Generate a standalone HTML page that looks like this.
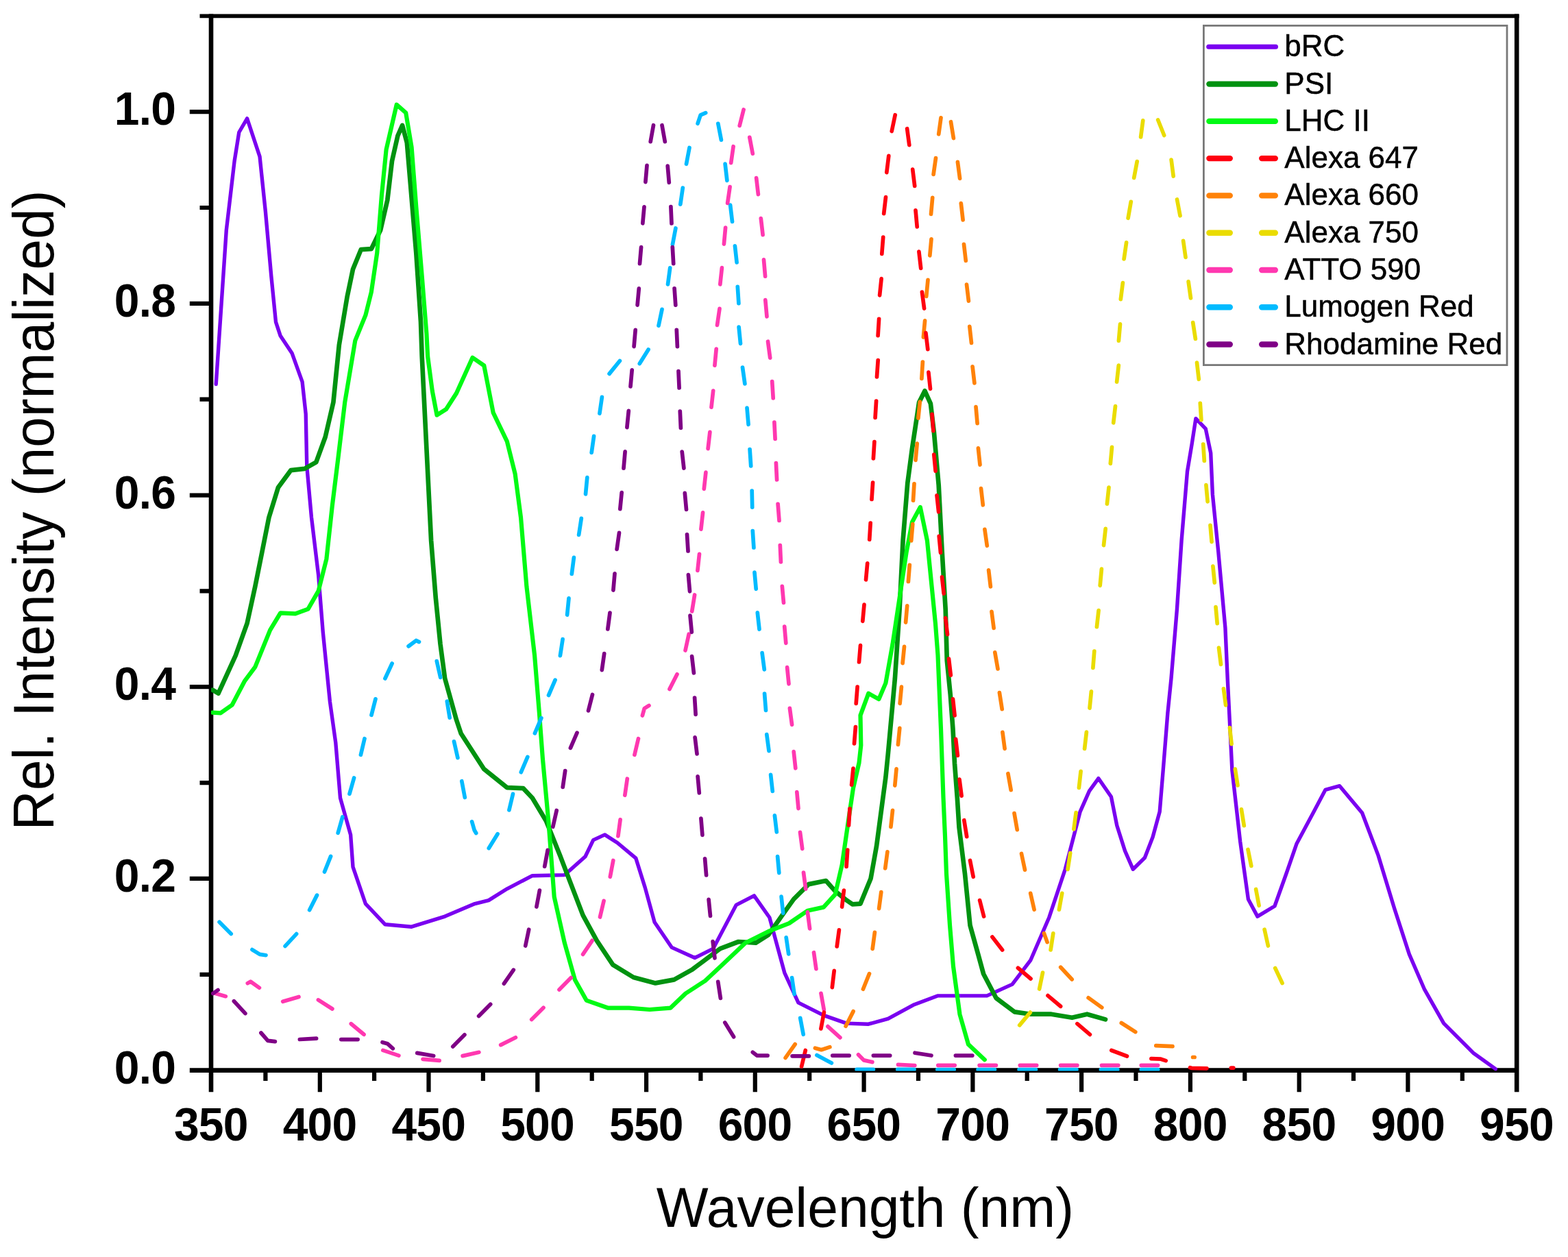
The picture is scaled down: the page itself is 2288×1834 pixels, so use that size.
<!DOCTYPE html>
<html lang="en"><head><meta charset="utf-8"><title>Absorption and emission spectra</title>
<style>html,body{margin:0;padding:0;background:#fff}body{width:2288px;height:1834px;overflow:hidden}svg{display:block}text{font-family:"Liberation Sans",Arial,Helvetica,sans-serif;fill:#000}.tk{font-weight:bold;font-size:66px;letter-spacing:-0.75px}.ax{font-size:80.4px}.lg{font-size:44px;stroke:#000;stroke-width:0.5px}.c{fill:none;stroke-linejoin:round;stroke-linecap:round}</style></head><body>
<svg xmlns="http://www.w3.org/2000/svg" width="2288" height="1834" viewBox="0 0 2288 1834">
<rect width="2288" height="1834" fill="#fff"/>
<g stroke="#000" fill="none" stroke-linecap="butt">
<path stroke-width="5.6" d="M291.5 23.4 H2216.5"/>
<path stroke-width="6.6" d="M276.8 1561.6 H2216.5 M308 20.6 V1593.2 M2213.2 20.6 V1593.2"/>
<path stroke-width="6.2" d="M466.8 1561.6 V1593.2 M625.5 1561.6 V1593.2 M784.3 1561.6 V1593.2 M943.1 1561.6 V1593.2 M1101.8 1561.6 V1593.2 M1260.6 1561.6 V1593.2 M1419.4 1561.6 V1593.2 M1578.1 1561.6 V1593.2 M1736.9 1561.6 V1593.2 M1895.7 1561.6 V1593.2 M2054.4 1561.6 V1593.2 M387.4 1561.6 V1577.0 M546.1 1561.6 V1577.0 M704.9 1561.6 V1577.0 M863.7 1561.6 V1577.0 M1022.4 1561.6 V1577.0 M1181.2 1561.6 V1577.0 M1340 1561.6 V1577.0 M1498.7 1561.6 V1577.0 M1657.5 1561.6 V1577.0 M1816.3 1561.6 V1577.0 M1975 1561.6 V1577.0 M2133.8 1561.6 V1577.0 M276.8 1281.9 H308 M276.8 1002.2 H308 M276.8 722.6 H308 M276.8 442.9 H308 M276.8 163.2 H308 M291.5 1421.8 H308 M291.5 1142.1 H308 M291.5 862.4 H308 M291.5 582.7 H308 M291.5 303 H308"/>
</g>
<clipPath id="pc"><rect x="308" y="23.4" width="1905.2" height="1539.2"/></clipPath>
<g class="c" clip-path="url(#pc)">
<path d="M315.2 560.6 L330.3 335.7 L342.1 235 L348.8 193 L360.6 172.9 L379 228.3 L387.4 308.8 L395.8 402.8 L402.5 469.9 L409.2 490.1 L426 515.2 L441.1 557.2 L446.2 603.9 L447.8 681.1 L454.5 755 L464.6 838.9 L471.3 922.8 L481.4 1023.5 L489.8 1083.6 L496.5 1164.2 L511.6 1217.9 L515 1264.9 L533.4 1318.6 L562 1348.8 L600.6 1352.2 L649.2 1337.1 L692.9 1318.6 L713 1313.6 L739.9 1296.8 L776.8 1277.7 L823.8 1276.6 L854 1249.8 L865.7 1225.6 L882.5 1217.9 L901 1229.7 L927.8 1252.1 L941.3 1295.1 L955.1 1345.5 L980.3 1382.4 L1013.8 1397.5 L1040.7 1384.1 L1074.3 1320.3 L1100.4 1306.9 L1122.9 1338.7 L1144.8 1419.3 L1164.9 1462.9 L1201.8 1481.4 L1235.4 1493.1 L1267.3 1494.2 L1295.8 1486.4 L1332.7 1466.3 L1368 1452.9 L1440.1 1452.9 L1477.1 1436.1 L1503.9 1400.8 L1530.8 1338.7 L1554.3 1268.3 L1576.1 1184.3 L1589.5 1154.1 L1602.9 1135.7 L1621.4 1162.5 L1629.8 1204.5 L1641.5 1241.4 L1653.3 1268.3 L1670.4 1251.5 L1682.1 1221.3 L1692.2 1184.3 L1697.2 1123.9 L1703.9 1040 L1709 989.9 L1717.4 889.2 L1724.1 788.5 L1732.5 687.8 L1739.2 647.6 L1744.9 610.6 L1759.3 625.7 L1766.7 661 L1769.4 721.4 L1777.8 805.3 L1787.9 916.1 L1791.2 989.9 L1797.9 1123.9 L1809.7 1228 L1821.4 1311.9 L1834.9 1337.1 L1860 1322 L1876.8 1275 L1891.9 1231.3 L1917.1 1184.3 L1933.9 1152.4 L1954.7 1146.7 L1987.6 1186 L2011.1 1248.1 L2034.6 1325.3 L2056.4 1392.4 L2078.2 1442.8 L2106.7 1493.1 L2150.4 1536.8 L2182.3 1559.6" stroke="#7a00f0" stroke-width="5.4"/>
<path d="M310.2 1006.7 L318.6 1011.7 L343.8 956.4 L360.6 909.4 L372.3 855.7 L382.4 805.3 L392.4 755 L405.9 711.3 L424.3 686.2 L444.5 683.8 L461.3 674.4 L474.7 637.5 L486.4 587.1 L494.8 503.5 L506.6 433 L515 392.7 L526.7 364.2 L541.8 363.2 L555.2 335.7 L565.3 292 L572 235 L580.4 198 L587.1 182.9 L593.8 208.1 L598.9 268.5 L607.3 369.2 L614 469.9 L615.7 520 L622.4 654.3 L629.1 788.5 L635.8 872.4 L642.5 939.6 L649.2 989.9 L666 1050.3 L672.7 1070.2 L706.3 1122.2 L739.9 1149.1 L763.4 1150.1 L776.8 1164.2 L796.9 1197.8 L817.1 1248.1 L850.6 1335.4 L870.8 1372.3 L894.3 1407.6 L924.5 1426 L956.4 1434.4 L983.6 1429.4 L1010.5 1414.3 L1050.8 1384.1 L1077.6 1374 L1102.8 1375.7 L1121.3 1363.9 L1141.4 1335.4 L1158.2 1311.9 L1180 1290.1 L1205.2 1285 L1218.6 1300.1 L1235.4 1313.6 L1243.8 1319.3 L1255.5 1318.6 L1270.6 1281.7 L1279 1234.7 L1292.4 1134 L1295.8 1100 L1305.9 989.9 L1312.6 889.2 L1317.6 788.5 L1324.3 704.6 L1331 654.3 L1341.1 587.1 L1349.5 570.3 L1357.9 588.8 L1362.9 630.8 L1369.7 708 L1374.7 805.3 L1379.7 889.2 L1381.8 964 L1386.8 1014 L1390.5 1064 L1393 1114 L1396.8 1164 L1399.5 1207 L1408 1275 L1415.5 1350 L1428 1395 L1435.1 1421 L1453.6 1456.2 L1480.4 1476.4 L1503.9 1479.7 L1534.1 1479.7 L1564.3 1484.8 L1586.2 1479.7 L1613 1487.4" stroke="#009210" stroke-width="6.7"/>
<path d="M310.2 1039.6 L322 1040.3 L338.7 1028.5 L357.2 993.3 L372.3 973.1 L394.1 919.4 L409.2 894.3 L431 895.3 L449.5 888.6 L464.6 862.4 L476.4 815.4 L484.8 738.2 L493.1 671 L503.2 587.1 L518.3 496.8 L533.4 459.9 L541.8 426.3 L550.2 369.2 L556.9 285.3 L563.6 218.2 L578.7 152.7 L592.2 164.5 L600.6 214.8 L607.3 302.1 L615.7 402.8 L622.4 486.7 L624.1 520 L630.8 570.3 L637.5 605.6 L650.9 597.2 L666 573.7 L689.5 521.7 L706.3 533.4 L719.7 602.2 L739.9 644.2 L751.6 691.2 L760 755 L768.4 855.7 L780.1 956.4 L786.9 1040.3 L791.9 1107.1 L800.3 1197.8 L808.7 1308.5 L823.8 1375.7 L838.9 1429.4 L855.7 1459.6 L887.6 1470.7 L917.8 1470.7 L948 1473 L978.2 1470.7 L1000.4 1449.5 L1029 1431 L1054.1 1407.6 L1087.7 1375.7 L1121.3 1358.9 L1151.5 1347.1 L1178.3 1328.7 L1201.8 1323.6 L1218.6 1305.2 L1228.7 1261.5 L1238.9 1191 L1245 1150 L1253.5 1113 L1256.3 1087.5 L1255.5 1043.6 L1267.3 1011.7 L1282.4 1020.1 L1292.4 996.6 L1302.5 939.6 L1312.6 872.4 L1322.7 805.3 L1331 761.7 L1342.8 739.9 L1352.9 788.5 L1359.6 855.7 L1365 910 L1368.5 956 L1373 1064 L1376.5 1164 L1379 1220 L1381 1275 L1386 1350 L1391 1410 L1400.5 1480 L1413 1523.8 L1436.8 1546.2" stroke="#00fa14" stroke-width="6.2"/>
<path d="M320.1 1345.3 L337.2 1362.4 M368 1385.6 L379 1392.4 L388 1393.7 M416.1 1380.4 L432.6 1362.6 M451.6 1327.8 L462.5 1306.1 M473.5 1272 L482.6 1249.4 M493.2 1215.3 L499.8 1191.9 M510 1158.3 L516.6 1134.9 M526.4 1101.3 L532 1077.7 M542 1043.3 L548 1019.8 M561.9 990 L572.1 968 M596.1 942.9 L607.3 934.5 L611.5 936.6 M637.3 964.6 L642.7 988.4 M652.3 1023.2 L656.2 1047.2 M662.5 1081.8 L667.9 1105.6 M673.8 1139.7 L678.3 1163.5 M688.6 1198.8 L692.2 1211.2 L694.7 1215.5 M713.3 1237.5 L726.1 1216.7 M742.9 1181.9 L748.5 1158.3 M760.3 1126.7 L769.8 1104.4 M780.4 1069.9 L789.9 1047.6 M800.5 1014.5 L810.1 992.2 M817.4 956.6 L821.1 932.6 M827.6 897.1 L830 872.9 M834.3 837.5 L837.4 813.4 M844.6 780.4 L848.3 756.3 M854.5 720.9 L856.8 696.7 M863.2 660.4 L866.6 636.4 M874.9 603.3 L878.4 579.3 M889.1 545.4 L904.4 526.5 M933.3 530.6 L946.1 509.9 M961 475.1 L966 451.4 M974.5 414.8 L977.7 390.8 M981.4 356.8 L985.9 333 M992.8 298.2 L996.3 274.1 M1001.5 239.3 L1006 215.5 M1018.1 180.2 L1022.2 167.8 L1029.7 164.6 M1047.8 180.3 L1052.4 204.1 M1058.1 239.2 L1060.9 263.3 M1065.6 299.2 L1068.5 323.4 M1072.4 358.8 L1075.1 383 M1076.3 418.4 L1077.9 442.6 M1078.1 477.1 L1080.5 501.3 M1083.5 536 L1086.9 560 M1090 595.1 L1092.1 619.4 M1094.1 655.6 L1095.7 679.8 M1097.2 716 L1097.7 740.2 M1098.3 774.7 L1099.9 799 M1101 835.2 L1103.2 859.3 M1105.3 893.9 L1108 918.1 M1112.1 952.7 L1115.3 976.8 M1115.6 1012.2 L1117.5 1036.4 M1118.8 1071.6 L1122 1095.7 M1124.6 1130.3 L1127.3 1154.5 M1130.4 1189.9 L1133.3 1214 M1134.6 1249.5 L1136.8 1273.6 M1140.1 1308.2 L1142.7 1332.3 M1147.2 1367.8 L1150.7 1391.9 M1155.6 1426.6 L1159.1 1450.6 M1167.7 1485.4 L1172.2 1509.3 M1191.9 1539.5 L1213.4 1550.9 M1250.1 1560.4 L1274.4 1560.4 M1309.7 1560.4 L1334 1560.4 M1367.8 1560.6 L1392.2 1560.6 M1427.1 1560.6 L1451.4 1560.6 M1487.1 1560.6 L1511.4 1560.6 M1546.6 1560.6 L1570.9 1560.6 M1606.4 1560.6 L1630.8 1560.6 M1665.3 1560.6 L1689.7 1560.6" stroke="#00bbff" stroke-width="5.7"/>
<path d="M314.6 1449.6 L329.3 1453.7 M361.3 1434.6 L365.6 1432.1 L378.4 1441.2 M412.7 1461.3 L436 1454.5 M464.4 1458.9 L484.9 1472 M512.3 1493.7 L531 1509.3 M558.8 1532.4 L581.9 1540.1 M617 1545.3 L641.2 1547.4 M675.1 1540.6 L698.9 1535.3 M730.7 1524.6 L752.4 1513.7 M775.7 1487.5 L793 1470.3 M816 1443.9 L833.2 1426.6 M850.6 1392.4 L864.1 1372.3 M875.5 1338 L881.1 1314.3 M890.3 1279.3 L894.8 1255.5 M901.9 1219.9 L905.1 1195.8 M911.8 1160.3 L915.3 1136.2 M925.9 1101.3 L931.5 1077.7 M937.4 1044 L940.3 1033.6 L947 1029.4 M977 1005.4 L988 983.8 M1000 949 L1005.2 925.2 M1009.7 892 L1013.6 868 M1017.9 832.5 L1020.5 808.3 M1022.9 772.1 L1025.6 747.9 M1027.3 713.3 L1029.9 689.2 M1033.1 654.6 L1035.9 630.4 M1038 594.2 L1040.7 570 M1042.9 533.2 L1045.2 509 M1046.5 474.4 L1050 450.4 M1050.8 414.9 L1053.4 390.7 M1056.4 356.1 L1058.6 332 M1061.6 296.5 L1065.1 272.5 M1066.7 237.7 L1070.1 213.7 M1079.2 183.4 L1085.1 159.9 M1093.8 200.4 L1098.3 224.2 M1103.6 259.5 L1106.4 283.6 M1110.3 318.6 L1113.1 342.7 M1114.5 378.9 L1116.6 403.2 M1116.8 437.7 L1119 461.9 M1120.5 498.2 L1123.7 522.2 M1126.7 556.5 L1128.2 580.8 M1129.9 616.1 L1131.1 640.4 M1132.4 675.7 L1133.6 700 M1135.1 735.3 L1137 759.5 M1138.3 795.7 L1139.4 819.9 M1141.3 855.3 L1143.5 879.5 M1144.7 914 L1146.8 938.3 M1148.6 973.6 L1151 997.8 M1152.4 1033.3 L1155.6 1057.3 M1158.2 1096.7 L1160.8 1120.9 M1162.8 1155.5 L1165 1179.6 M1167.5 1214.3 L1170.7 1238.3 M1172.5 1273 L1175.7 1297.1 M1178.4 1330.9 L1181.6 1354.9 M1187.5 1389.7 L1190.9 1413.7 M1198 1449.3 L1202.3 1473.2 M1207.9 1497.6 L1225.9 1513.9 M1252.5 1538.8 L1260.6 1546.9 L1272.9 1549.6 M1310.5 1553.3 L1334.8 1554.5 M1368.8 1554.3 L1393.2 1554.3 M1429.1 1554.3 L1453.4 1554.3 M1488.3 1554.3 L1512.7 1554.3 M1547.6 1554.3 L1571.9 1554.3 M1607.5 1554.3 L1631.8 1554.3 M1665.3 1554.3 L1689.7 1554.3" stroke="#ff38b0" stroke-width="5.7"/>
<path d="M1487.7 1495.8 L1503.3 1477.1 M1516.6 1443 L1521.5 1419.1 M1533.1 1386 L1536.8 1361.9 M1545.4 1327.2 L1549.7 1303.3 M1558 1268.5 L1561.7 1244.5 M1566.9 1209.8 L1570.1 1185.7 M1574.4 1149.4 L1577.1 1125.3 M1582.6 1092.4 L1585.4 1068.2 M1590 1033.1 L1592.4 1008.9 M1594.9 974.4 L1596.8 950.1 M1600.4 914.7 L1603.1 890.6 M1605.2 854.3 L1607.4 830.2 M1610.5 795.6 L1613.2 771.4 M1615.4 735.2 L1618 711 M1620.3 676.4 L1622.5 652.3 M1624.7 616.8 L1627.5 592.7 M1629.6 557.2 L1632.3 533.1 M1632.4 497.2 L1634.5 472.9 M1635.3 436.7 L1638.4 412.5 M1640.1 377.9 L1643.6 353.8 M1646.1 318.3 L1650.3 294.3 M1654.7 259.5 L1659.2 235.6 M1664.6 200 L1667.8 175.9 M1689.7 175 L1698.7 197.5 M1709.1 233 L1712.2 257.1 M1717.5 291 L1722 314.8 M1726.6 351.3 L1730 375.4 M1734.1 410.9 L1737.5 435 M1740.7 470.5 L1744.4 494.5 M1746.5 529.2 L1749.3 553.3 M1751.3 588.4 L1752.9 612.7 M1755.7 648 L1757.3 672.3 M1759.9 707.6 L1762.1 731.8 M1766 766.3 L1768.1 790.6 M1769.9 826 L1772.3 850.1 M1774 885.5 L1776.2 909.7 M1778.5 945.1 L1781.5 969.3 M1785.4 1004.8 L1788.6 1028.8 M1794.4 1061.5 L1797.1 1085.6 M1802.3 1122 L1806 1146 M1811.4 1180.8 L1815.3 1204.7 M1821 1239.5 L1825.8 1263.4 M1832.6 1297.5 L1837.1 1321.3 M1845.1 1356.2 L1850.4 1380 M1860.7 1412.5 L1871.1 1434.5" stroke="#eadc00" stroke-width="5.7"/>
<path d="M1146.1 1543.4 L1160.2 1523.5 M1189.4 1529.2 L1198.5 1531.7 L1210.9 1527.6 M1234.1 1497.3 L1245.1 1475.6 M1259.4 1443.2 L1268.5 1420.6 M1273.2 1384.3 L1276.4 1360.3 M1282.6 1325.6 L1285.8 1301.5 M1291.7 1266.9 L1294.9 1242.8 M1299.9 1206.5 L1302.5 1182.3 M1305.8 1146.1 L1308 1121.9 M1310.4 1086.5 L1312.8 1062.3 M1313.1 1026.4 L1315.4 1002.2 M1317.1 967.6 L1319.5 943.4 M1321.6 908.1 L1323.7 883.8 M1325.4 848.5 L1327.3 824.3 M1329.7 788.9 L1331.8 764.6 M1332.5 730.2 L1334 705.9 M1336 671.4 L1338.2 647.2 M1339.9 610.1 L1342.3 586 M1344.9 552.3 L1346.4 528 M1347.4 492.1 L1349.6 467.9 M1351.7 432.5 L1354 408.3 M1356.8 372.9 L1359 348.8 M1358.5 312.5 L1360.7 288.3 M1362.1 254.5 L1365.5 230.5 M1369.7 195.8 L1373 171.8 M1387.5 177.7 L1391.4 201.6 M1397.4 236.4 L1400.6 260.4 M1402.3 296.7 L1405.1 320.9 M1406.5 356.3 L1409.3 380.5 M1410.5 415 L1413.4 439.2 M1414.8 476.3 L1417.5 500.5 M1419.1 534.8 L1421.9 558.9 M1424 593.5 L1426.1 617.7 M1427.4 653.9 L1430 678.1 M1431.5 712.7 L1434.3 736.8 M1436.9 772.3 L1440.3 796.3 M1442.6 831.8 L1445.4 856 M1447 892.3 L1450.1 916.4 M1451.8 951.9 L1456 975.9 M1458.4 1010.6 L1462.2 1034.7 M1462.9 1068.3 L1466.1 1092.3 M1470.9 1128.7 L1475.2 1152.7 M1480 1186.6 L1484.2 1210.6 M1490.5 1245.5 L1495.5 1269.2 M1503.7 1303.4 L1509.1 1327.1 M1523.4 1361.6 L1528.1 1374.6 M1547.7 1411.2 L1564.2 1429 M1588.1 1455.8 L1607.8 1470 M1636.3 1492.5 L1656.8 1505.6 M1686.8 1525.7 L1711 1526.7 M1740.6 1542.5 L1743.1 1542.5" stroke="#ff8208" stroke-width="5.7"/>
<path d="M1169.6 1556.1 L1175.3 1532.5 M1197.9 1500.9 L1202.4 1477 M1214.3 1440.6 L1217.2 1416.4 M1221.2 1381 L1224.4 1356.9 M1228.6 1323.1 L1231.4 1299 M1235.1 1264.4 L1236.7 1240.2 M1238.5 1204 L1240 1179.8 M1242.6 1145.2 L1245 1121.1 M1246.5 1084.8 L1248.4 1060.6 M1249.2 1026.4 L1251.1 1002.2 M1253.5 966 L1255.5 941.7 M1258.8 906.3 L1261 882.2 M1263.5 845.9 L1265.7 821.8 M1268.7 787.2 L1270.2 763 M1272 728.5 L1273.6 704.2 M1274.4 668.9 L1275.9 644.7 M1277.1 609.3 L1278.6 585.1 M1279.5 549.8 L1281.2 525.5 M1281.1 489.6 L1282.6 465.4 M1283.6 430.8 L1286.1 406.7 M1286.8 370.4 L1288.7 346.2 M1289.7 311.7 L1292.5 287.5 M1293.8 251.6 L1296.8 227.4 M1301.2 191.5 L1306.2 167.7 M1323.6 187.7 L1326.8 211.7 M1331.7 247.2 L1334.7 271.4 M1336 306.8 L1338.2 331 M1340.9 367.2 L1343.7 391.4 M1345.4 426 L1348.6 450.1 M1350.9 485.5 L1353.8 509.7 M1354.9 543.2 L1357.5 567.3 M1360 604.4 L1361.9 628.6 M1362.8 663.2 L1365.1 687.3 M1367 722.8 L1369.6 746.9 M1370.2 782.3 L1372.5 806.5 M1374.5 841.9 L1377.2 866.1 M1379.6 901.5 L1382.5 925.7 M1384.5 961.1 L1387.3 985.2 M1390.5 1019.8 L1393.1 1044 M1394.6 1078.3 L1397.4 1102.4 M1400 1137 L1403.1 1161.2 M1406.8 1196.7 L1410.7 1220.7 M1415.5 1255.5 L1420.2 1279.3 M1429.6 1313.6 L1435.6 1337.1 M1447.9 1366.9 L1462.6 1386.1 M1485.4 1412.3 L1504 1428 M1529 1452.6 L1547.6 1468.3 M1571.9 1493.7 L1590.4 1509.4 M1621.8 1532.5 L1644.5 1541 M1679.9 1544.6 L1693.9 1545.2 L1701.2 1547.6 M1736.5 1557.6 L1738.5 1558.3 L1760.9 1558.8 M1796.4 1558.1 L1799.8 1558.1" stroke="#ff0010" stroke-width="5.7"/>
<path d="M310.8 1449.5 L318 1444.5 M341.4 1460.7 L357.9 1478.6 M380.9 1507 L390.8 1518.3 L401.4 1519.6 M437.4 1516.5 L461.6 1515.1 M497.8 1516.6 L522.1 1516.6 M558 1520.7 L565.3 1522.7 L573.3 1529.8 M608.7 1536.4 L632.7 1540.5 M660.8 1526.9 L677.9 1509.8 M698.6 1482.4 L715.7 1465.3 M735.4 1435.2 L749.3 1415.2 M766.7 1380 L771.7 1356.2 M782.9 1323 L787.4 1299.1 M794.7 1264.2 L799.2 1240.4 M806.8 1206.3 L812.2 1182.5 M821.2 1148.5 L824.7 1124.5 M832.4 1091.4 L842 1069.1 M858.5 1036.9 L864.5 1013.4 M878.3 977.6 L881.7 953.6 M886.8 918 L890 894 M894.9 861.1 L897 836.8 M900.1 801.4 L903.5 777.4 M904.8 742.7 L907.2 718.5 M910 683.2 L912.1 658.9 M914.9 623.6 L917.3 599.4 M920 564 L922.2 539.8 M925.1 505.6 L927.2 481.3 M930.1 445.1 L932.3 420.9 M933.5 384.7 L935.6 360.5 M937.8 325.9 L940 301.8 M941.9 265.6 L944 241.3 M949.2 206.7 L953.5 182.7 M966 182.7 L970.3 206.7 M974.2 242.1 L976.3 266.4 M978.9 301.7 L980 326 M981.3 360.5 L982.7 384.7 M984.1 420.9 L985.8 445.1 M987.3 481.3 L988.4 505.6 M990 541.7 L991.1 566 M992.3 600.2 L993.4 624.4 M995.2 659 L997.9 683.1 M999.3 719.4 L1001.5 743.5 M1002.5 779.8 L1004 804 M1004.4 838.5 L1006.5 862.8 M1007 898.1 L1009.3 922.3 M1009.6 957.7 L1012.4 981.9 M1013.6 1018.1 L1015.1 1042.3 M1014.1 1075.8 L1017 1099.9 M1018.1 1132.8 L1020.3 1157 M1022.9 1194 L1024.9 1218.3 M1028.6 1252.8 L1030.6 1277 M1034.1 1312.4 L1036.5 1336.5 M1040.1 1373.6 L1043 1397.8 M1047.7 1432.4 L1051.4 1456.5 M1057.8 1492 L1070.6 1512.8 M1098.3 1535.2 L1104.5 1540.1 L1120.1 1540.1 M1156.1 1540.8 L1180.4 1540.8 M1214.8 1540.1 L1239.2 1540.1 M1274.4 1540.1 L1298.7 1540.1 M1335 1536.2 L1359 1540 M1394.4 1540.1 L1418.8 1540.1" stroke="#7f0086" stroke-width="5.7"/>
</g>
<g class="tk" text-anchor="middle">
<text transform="translate(307.8 1663.8) scale(1 1.027)">350</text>
<text transform="translate(466.6 1663.8) scale(1 1.027)">400</text>
<text transform="translate(625.3 1663.8) scale(1 1.027)">450</text>
<text transform="translate(784.1 1663.8) scale(1 1.027)">500</text>
<text transform="translate(942.9 1663.8) scale(1 1.027)">550</text>
<text transform="translate(1101.6 1663.8) scale(1 1.027)">600</text>
<text transform="translate(1260.4 1663.8) scale(1 1.027)">650</text>
<text transform="translate(1419.2 1663.8) scale(1 1.027)">700</text>
<text transform="translate(1577.9 1663.8) scale(1 1.027)">750</text>
<text transform="translate(1736.7 1663.8) scale(1 1.027)">800</text>
<text transform="translate(1895.5 1663.8) scale(1 1.027)">850</text>
<text transform="translate(2054.2 1663.8) scale(1 1.027)">900</text>
<text transform="translate(2213 1663.8) scale(1 1.027)">950</text>
</g>
<g class="tk" text-anchor="end">
<text transform="translate(256.2 1580.6) scale(1 1.027)">0.0</text>
<text transform="translate(256.2 1300.9) scale(1 1.027)">0.2</text>
<text transform="translate(256.2 1021.2) scale(1 1.027)">0.4</text>
<text transform="translate(256.2 741.6) scale(1 1.027)">0.6</text>
<text transform="translate(256.2 461.9) scale(1 1.027)">0.8</text>
<text transform="translate(256.2 182.2) scale(1 1.027)">1.0</text>
</g>
<text class="ax" text-anchor="middle" transform="translate(1262.4 1790.4) scale(1 1.025)">Wavelength (nm)</text>
<text class="ax" text-anchor="middle" transform="translate(78 744.5) rotate(-90) scale(1 1.03)">Rel. Intensity (normalized)</text>
<rect x="1756.4" y="37.4" width="442.6" height="495.2" fill="#fff" stroke="#787878" stroke-width="2.8"/>
<g class="c">
<path d="M1763.7 68.3 H1861.5" stroke="#7a00f0" stroke-width="7.0"/>
<path d="M1764.4 122.6 H1860.8" stroke="#009210" stroke-width="8.4"/>
<path d="M1764.4 176.9 H1860.8" stroke="#00fa14" stroke-width="8.4"/>
<path d="M1764.4 231.1 H1794.8 M1841.2 231.1 H1860.8" stroke="#ff0010" stroke-width="8.4"/>
<path d="M1764.4 285.4 H1794.8 M1841.2 285.4 H1860.8" stroke="#ff8208" stroke-width="8.4"/>
<path d="M1764.4 339.7 H1794.8 M1841.2 339.7 H1860.8" stroke="#eadc00" stroke-width="8.4"/>
<path d="M1764.4 394 H1794.8 M1841.2 394 H1860.8" stroke="#ff38b0" stroke-width="8.4"/>
<path d="M1764.4 448.3 H1794.8 M1841.2 448.3 H1860.8" stroke="#00bbff" stroke-width="8.4"/>
<path d="M1764.4 502.5 H1794.8 M1841.2 502.5 H1860.8" stroke="#7f0086" stroke-width="8.4"/>
</g>
<g class="lg">
<text x="1874.3" y="82.3">bRC</text>
<text x="1874.3" y="136.6">PSI</text>
<text x="1874.3" y="190.9">LHC II</text>
<text x="1874.3" y="245.1">Alexa 647</text>
<text x="1874.3" y="299.4">Alexa 660</text>
<text x="1874.3" y="353.7">Alexa 750</text>
<text x="1874.3" y="408">ATTO 590</text>
<text x="1874.3" y="462.3">Lumogen Red</text>
<text x="1874.3" y="516.5">Rhodamine Red</text>
</g>
</svg></body></html>
